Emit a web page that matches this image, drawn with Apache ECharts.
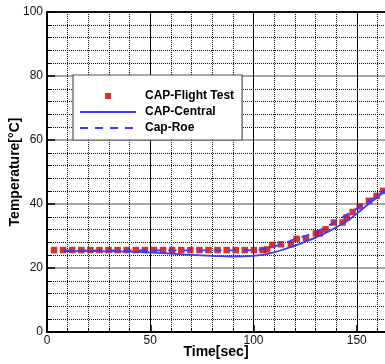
<!DOCTYPE html>
<html>
<head>
<meta charset="utf-8">
<script src="https://cdn.jsdelivr.net/npm/echarts@6/dist/echarts.min.js"></script>
<style>
  html, body { margin: 0; padding: 0; background: #fff; }
  #chart { width: 385px; height: 364px; }
</style>
</head>
<body>
<div id="chart"></div>
<script>
// Measured flight-test temperatures
const flightTime = [3.4, 7.8, 12.2, 16.6, 21.0, 25.4, 29.8, 34.2, 38.6, 43.0, 47.4, 51.8,
  56.2, 60.6, 65.0, 69.4, 73.8, 78.2, 82.6, 87.0, 91.4, 95.8, 100.2, 104.4,
  106.6, 109.1, 113.3, 118.1, 120.9, 125.4, 130.2, 132.1, 134.9, 138.9, 143.1,
  145.1, 148.0, 151.5, 155.9, 159.6, 162.8];
const flightTemp = [25.6, 25.6, 25.6, 25.6, 25.6, 25.6, 25.6, 25.6, 25.6, 25.6, 25.6, 25.6,
  25.6, 25.6, 25.6, 25.6, 25.6, 25.6, 25.6, 25.6, 25.6, 25.6, 25.6, 25.6,
  25.8, 27.2, 27.4, 27.4, 29.1, 29.3, 30.8, 30.8, 32.1, 34.2, 34.2,
  35.8, 37.5, 39.2, 41.0, 42.5, 44.1];

// Central-scheme prediction
const centralTime = [8, 20, 30, 40, 50, 60, 70, 80, 90, 100, 105, 110, 115, 120, 125, 130, 135, 140, 145, 150, 155, 160, 165];
const centralTemp = [25.3, 25.3, 25.2, 25.1, 24.9, 24.5, 24.1, 23.8, 23.6, 23.8, 24.2, 24.9, 25.9, 27.0, 28.2, 29.5, 31.0, 32.7, 34.5, 37.0, 39.6, 42.1, 44.6];

// Roe-scheme prediction
const roeTime = [8, 20, 40, 60, 80, 100, 105, 110, 115, 120, 125, 130, 135, 140, 145, 150, 155, 160, 165];
const roeTemp = [25.5, 25.5, 25.5, 25.5, 25.5, 25.6, 26.0, 26.7, 27.8, 29.0, 30.0, 31.2, 32.8, 34.6, 36.6, 38.6, 40.6, 42.7, 45.0];

const zip = (xs, ys) => xs.map((x, i) => [x, ys[i]]);

const FONT = 'Arial, "Liberation Sans", sans-serif';
const BLUE = '#3c3cff';
const RED = '#cc0000';

// Legend glyphs, drawn in a 56x14 box (the leading moves pin the box size)
const ICON_BOX = 'M0,0M56,14';
const ICON_SQUARE = 'path://' + ICON_BOX + 'M25,4h6v6h-6z';
const ICON_SOLID = 'path://' + ICON_BOX + 'M0,6h56v2h-56z';
const ICON_DASHED = 'path://' + ICON_BOX + 'M0,6h8v2h-8zM15,6h8v2h-8zM30,6h8v2h-8zM45,6h8v2h-8z';

const chart = echarts.init(document.getElementById('chart'), null, { renderer: 'canvas' });

chart.setOption({
  animation: false,
  backgroundColor: '#fff',
  textStyle: { fontFamily: FONT },
  grid: {
    left: 47, top: 12, right: -75, bottom: 32,
    outerBoundsMode: 'none', containLabel: false,
    show: true, borderColor: '#000', borderWidth: 1.5, backgroundColor: '#fff'
  },
  legend: {
    orient: 'vertical',
    left: 73, top: 75,
    padding: [14, 8, 5, 7],
    itemWidth: 56, itemHeight: 14, itemGap: 2,
    backgroundColor: '#fff',
    borderColor: '#555', borderWidth: 1.2,
    textStyle: { fontFamily: FONT, fontWeight: 'bold', fontSize: 12, color: '#000', padding: [0, 0, 0, 4] },
    data: [
      { name: 'CAP-Flight Test', icon: ICON_SQUARE },
      { name: 'CAP-Central', icon: ICON_SOLID },
      { name: 'Cap-Roe', icon: ICON_DASHED }
    ]
  },
  xAxis: {
    type: 'value', min: 0, max: 200, interval: 50,
    name: 'Time[sec]', nameLocation: 'middle', nameGap: 13, nameMoveOverlap: false,
    nameTextStyle: { fontFamily: FONT, fontWeight: 'bold', fontSize: 14, color: '#000', padding: [0, 75, 0, 0] },
    axisLine: { show: true, onZero: false, lineStyle: { color: '#000', width: 2 } },
    axisTick: { show: true, inside: true, length: 7, lineStyle: { color: '#000', width: 1.5 } },
    minorTick: { show: true, splitNumber: 5, length: 4, lineStyle: { color: '#000', width: 1 } },
    axisLabel: { margin: 3, fontSize: 12, color: '#111', fontFamily: FONT },
    splitLine: { show: true, lineStyle: { color: '#000', width: 1 } },
    minorSplitLine: { show: true, lineStyle: { color: '#111', width: 1, type: [1, 1] } }
  },
  yAxis: {
    type: 'value', min: 0, max: 100, interval: 20,
    name: 'Temperature[°C]', nameLocation: 'middle', nameGap: 25, nameMoveOverlap: false,
    nameTextStyle: { fontFamily: FONT, fontWeight: 'bold', fontSize: 14, color: '#000' },
    axisLine: { show: true, onZero: false, lineStyle: { color: '#000', width: 2 } },
    axisTick: { show: true, inside: true, length: 8, lineStyle: { color: '#000', width: 1.5 } },
    minorTick: { show: true, splitNumber: 5, length: 5, lineStyle: { color: '#000', width: 1 } },
    axisLabel: { margin: 4, fontSize: 12, color: '#111', fontFamily: FONT },
    splitLine: { show: true, lineStyle: { color: ['#000', '#888', '#888', '#888', '#888', '#000'], width: 1.5 } },
    minorSplitLine: { show: true, lineStyle: { color: '#111', width: 1, type: [1, 1] } }
  },
  series: [
    {
      name: 'CAP-Flight Test', type: 'scatter',
      symbol: 'rect', symbolSize: 6.5,
      itemStyle: { color: RED },
      data: zip(flightTime, flightTemp), z: 2
    },
    {
      name: 'CAP-Central', type: 'line', smooth: true,
      symbol: 'none', showSymbol: false,
      lineStyle: { color: BLUE, width: 1.8 },
      itemStyle: { color: BLUE },
      data: zip(centralTime, centralTemp), z: 3
    },
    {
      name: 'Cap-Roe', type: 'line', smooth: true,
      symbol: 'none', showSymbol: false,
      lineStyle: { color: BLUE, width: 1.8, type: [8, 7] },
      itemStyle: { color: BLUE },
      data: zip(roeTime, roeTemp), z: 3
    }
  ]
});
</script>
</body>
</html>
